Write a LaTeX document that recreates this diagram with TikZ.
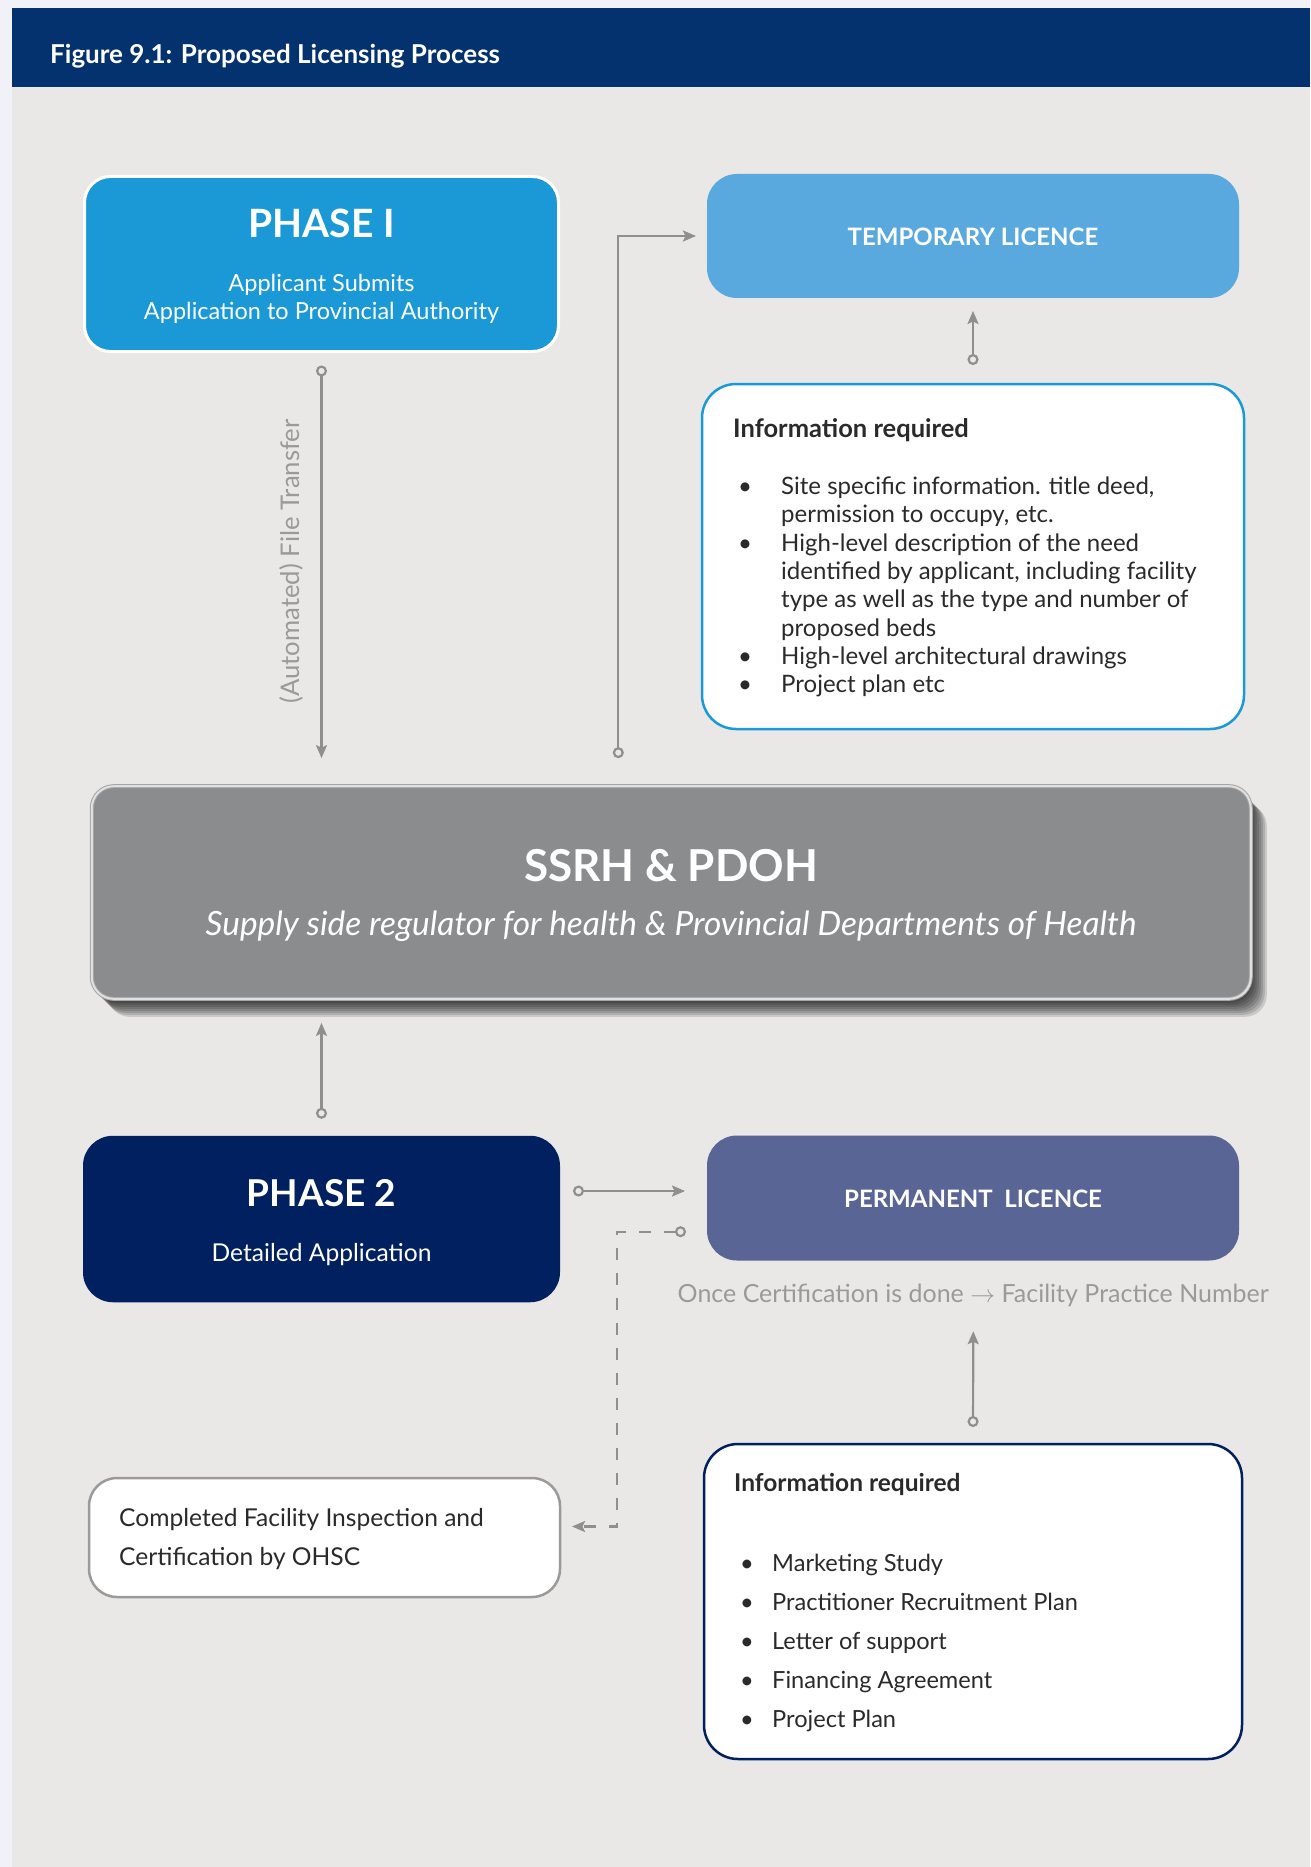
\documentclass[tikz,border=0pt]{standalone}
\usepackage{fontspec}
\setmainfont{Lato}
\usetikzlibrary{arrows.meta,positioning,shadows}

\definecolor{pagestrip}{HTML}{F0F2F7}
\definecolor{panelgray}{HTML}{E9E8E6}
\definecolor{headblue}{HTML}{04326E}
\definecolor{phaseone}{HTML}{1B99D6}
\definecolor{tempblue}{HTML}{59A8DE}
\definecolor{permblue}{HTML}{596595}
\definecolor{phasetwo}{HTML}{00205F}
\definecolor{ssrhgray}{HTML}{8B8C8E}
\definecolor{linkgray}{HTML}{8F8F8F}
\definecolor{notegray}{HTML}{9A9A9A}
\definecolor{inktext}{HTML}{2A2A2A}

\begin{document}
\begin{tikzpicture}[x=1pt,y=-1pt,
    box/.style={rectangle,rounded corners=30pt,outer sep=0pt,inner sep=0pt},
    infobox/.style={box,rounded corners=34pt,fill=white,line width=2.5pt},
    boxtitle/.style={text=white,font=\bfseries\fontsize{38}{44}\selectfont,inner sep=0pt},
    boxtext/.style={text=white,font=\fontsize{23.5}{28.3}\selectfont,inner sep=0pt},
    licence/.style={text=white,font=\bfseries\fontsize{24}{28}\selectfont,inner sep=0pt},
    infohead/.style={text=inktext,font=\bfseries\fontsize{24.5}{28}\selectfont,inner sep=0pt,anchor=base west},
    softshadow/.style={drop shadow={shadow xshift=#1pt,shadow yshift=-#1pt-2pt,fill=black,opacity=.13}},
    link/.style={draw=linkgray,line width=2.2pt,{Circle[open,length=11pt,width=11pt]}-{Stealth[length=13pt,width=11pt,inset=2.5pt]}}]
\useasboundingbox (0,0) rectangle (1310,1867);
\fill[pagestrip] (0,0) rectangle (1310,1867);
\fill[panelgray] (12,86) rectangle (1310,1867);

\node[rectangle,fill=headblue,minimum width=1298pt,minimum height=78.5pt,inner sep=0pt] (header) at (661,47.3) {};
\node[text=white,font=\bfseries\fontsize{26}{30}\selectfont,inner sep=0pt,anchor=base west] (title) at (50,63.3) {Figure 9.1: Proposed Licensing Process};

\node[box,rounded corners=26pt,fill=phaseone,draw=white,line width=3pt,minimum width=474pt,minimum height=175pt] (phase1) at (321.5,264) {};
\node[boxtitle,font=\bfseries\fontsize{39}{44}\selectfont] (phase1title) at (321.5,223) {PHASE I};
\node[boxtext,anchor=base] (phase1text) at (321.5,291.7) {\begin{tabular}[t]{@{}c@{}}Applicant Submits\\Application to Provincial Authority\end{tabular}};

\node[box,fill=tempblue,minimum width=532pt,minimum height=124pt] (temp) at (973,236) {};
\node[licence] (temptext) at (973,236.6) {TEMPORARY LICENCE};

\node[infobox,draw=phaseone,minimum width=542pt,minimum height=345pt] (info1) at (973,556.5) {};
\node[infohead,font=\bfseries\fontsize{25.5}{28}\selectfont] (info1head) at (733,437.5) {Information required};
\node[text=inktext,font=\fontsize{24}{28.3}\selectfont,inner sep=0pt,anchor=base west] (info1list) at (738,494.6) {%
  \begin{tabular}[t]{@{}p{43pt}@{}l@{}}
  \textbullet & Site specific information. title deed,\\
              & permission to occupy, etc.\\
  \textbullet & High-level description of the need\\
              & identified by applicant, including facility\\
              & type as well as the type and number of\\
              & proposed beds\\
  \textbullet & High-level architectural drawings\\
  \textbullet & Project plan etc
  \end{tabular}};

\node[box,rounded corners=22pt,fill=ssrhgray,draw=linkgray!80,double=white!88!black,double distance=2pt,line width=1pt,
      minimum width=1159pt,minimum height=212.7pt,
      softshadow=2,softshadow=4,softshadow=6,softshadow=8,softshadow=10,softshadow=12,softshadow=14,softshadow=16] (ssrh) at (671.3,892.5) {};
\node[text=white,font=\bfseries\fontsize{44}{50}\selectfont,inner sep=0pt] (ssrhtitle) at (671,866) {SSRH \& PDOH};
\node[text=white,font=\itshape\fontsize{33.4}{38}\selectfont,inner sep=0pt,anchor=base] (ssrhtext) at (671,935.5) {Supply side regulator for health \& Provincial Departments of Health};

\node[text=notegray,font=\fontsize{25.7}{30}\selectfont,inner sep=0pt,rotate=90] (xferlabel) at (291.7,561.5) {(Automated) File Transfer};

\node[box,fill=phasetwo,minimum width=477pt,minimum height=166.5pt] (phase2) at (321.5,1219) {};
\node[boxtitle,font=\bfseries\fontsize{37}{44}\selectfont] (phase2title) at (321.5,1193.5) {PHASE 2};
\node[boxtext,font=\fontsize{24.6}{28.3}\selectfont,anchor=base] (phase2text) at (321.5,1261.7) {Detailed Application};

\node[box,fill=permblue,minimum width=532pt,minimum height=125pt] (perm) at (973,1198) {};
\node[licence] (permtext) at (973,1199) {PERMANENT\ \ LICENCE};
\node[text=notegray,font=\fontsize{25}{29}\selectfont,inner sep=0pt,anchor=base] (note) at (973.3,1302.7) {Once Certification is done $\rightarrow$ Facility Practice Number};

\node[infobox,rounded corners=28pt,draw=notegray,minimum width=471pt,minimum height=119pt] (done) at (324.5,1537.5) {};
\node[text=inktext,font=\fontsize{24.6}{38.3}\selectfont,inner sep=0pt,anchor=base west] (donetext) at (119,1526.7) {%
  \begin{tabular}[t]{@{}l@{}}Completed Facility Inspection and\\Certification by OHSC\end{tabular}};

\node[infobox,draw=phasetwo,minimum width=538pt,minimum height=315pt] (info2) at (973,1601.5) {};
\node[infohead] (info2head) at (734,1491.7) {Information required};
\node[text=inktext,font=\fontsize{23.6}{38.9}\selectfont,inner sep=0pt,anchor=base west] (info2list) at (740,1571.7) {%
  \begin{tabular}[t]{@{}p{32pt}@{}l@{}}
  \textbullet & Marketing Study\\
  \textbullet & Practitioner Recruitment Plan\\
  \textbullet & Letter of support\\
  \textbullet & Financing Agreement\\
  \textbullet & Project Plan
  \end{tabular}};

\coordinate (permin) at ([yshift=7pt]perm.west);
\coordinate (permout) at ([yshift=-33.7pt]perm.west);
\coordinate (donein) at ([yshift=11pt]done.east);

\draw[link,shorten <=14pt,shorten >=28pt] (phase1.south) -- (phase1.south |- ssrh.north);
\draw[link,shorten <=28pt,shorten >=11pt] ([xshift=-53pt]ssrh.north) |- (temp.west);
\draw[link,shorten <=19pt,shorten >=13pt] (info1.north) -- (temp.south);
\draw[link,shorten <=17pt,shorten >=24pt] (phase2.north) -- (phase2.north |- ssrh.south);
\draw[link,shorten <=13pt,shorten >=22pt] (phase2.east |- permin) -- (permin);
\draw[link,dash pattern=on 12pt off 13pt,shorten <=21pt,shorten >=12pt] (permout) -| ([xshift=57pt]donein) -- (donein);
\draw[link,shorten <=17pt,shorten >=24pt] (info2.north) -- (note.south);
\end{tikzpicture}
\end{document}
